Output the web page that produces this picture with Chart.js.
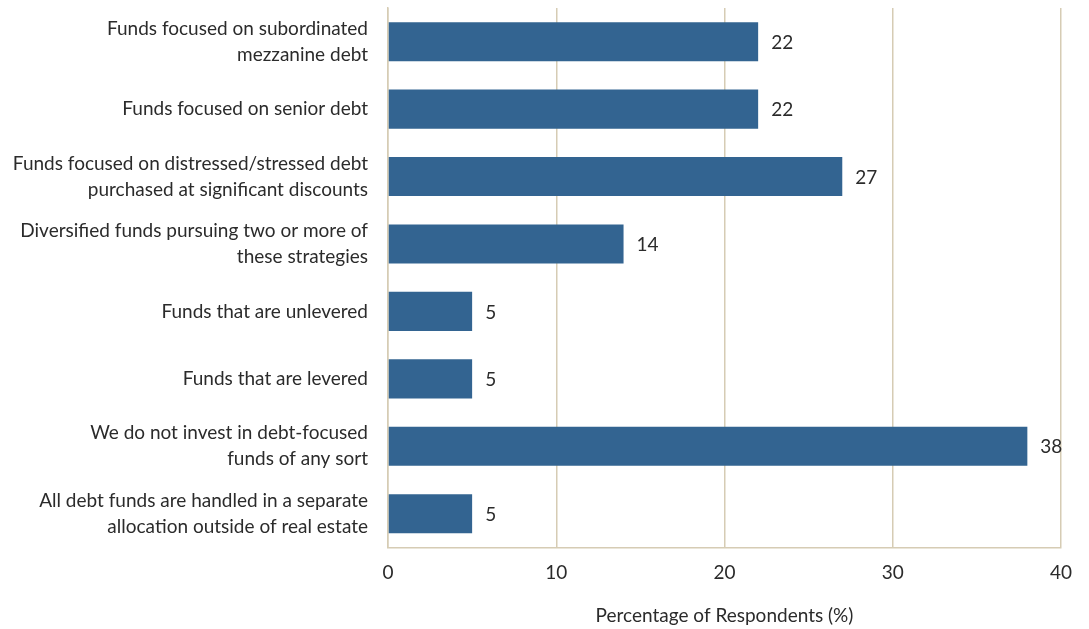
<!DOCTYPE html>
<html>
<head>
<meta charset="utf-8">
<script src="https://cdn.jsdelivr.net/npm/chart.js@4/dist/chart.umd.min.js"></script>
<style>
  html, body { margin: 0; padding: 0; background: #fff; }
  #wrap { width: 1089px; height: 629px; position: relative; }
</style>
</head>
<body>
<div id="wrap"><canvas id="chart"></canvas></div>
<script>
// categories (multi-line labels as arrays)
const categories = [
    ["Funds focused on subordinated", "mezzanine debt"],
    "Funds focused on senior debt",
    ["Funds focused on distressed/stressed debt", "purchased at significant discounts"],
    ["Diversified funds pursuing two or more of", "these strategies"],
    "Funds that are unlevered",
    "Funds that are levered",
    ["We do not invest in debt-focused", "funds of any sort"],
    ["All debt funds are handled in a separate", "allocation outside of real estate"]
];
const respondents = [22, 22, 27, 14, 5, 5, 38, 5];
const xTicks = [0, 10, 20, 30, 40];

const barColor = "#336491";
const gridColor = "#d6ccb4";
const textColor = "#2b2b2b";
const fontFamily = "Lato, 'Open Sans', sans-serif";

// draws the value to the right of each bar
const valueLabels = {
    id: "valueLabels",
    afterDatasetsDraw(chart) {
        const ctx = chart.ctx;
        const meta = chart.getDatasetMeta(0);
        ctx.save();
        ctx.font = "19px " + fontFamily;
        ctx.fillStyle = textColor;
        ctx.textAlign = "left";
        ctx.textBaseline = "middle";
        meta.data.forEach((bar, i) => {
            ctx.fillText(String(respondents[i]), bar.x + 13, bar.y + 1);
        });
        ctx.restore();
    }
};

new Chart(document.getElementById("chart").getContext("2d"), {
    type: "bar",
    data: {
        labels: categories,
        datasets: [{
            data: respondents,
            backgroundColor: barColor,
            borderWidth: 0,
            barPercentage: 0.58,
            categoryPercentage: 1
        }]
    },
    options: {
        indexAxis: "y",
        responsive: true,
        maintainAspectRatio: false,
        animation: false,
        layout: { padding: { top: 8, right: 28, bottom: 2, left: 8 } },
        plugins: {
            legend: { display: false },
            tooltip: { enabled: false }
        },
        scales: {
            x: {
                min: 0,
                max: 40,
                afterBuildTicks: (axis) => { axis.ticks = xTicks.map((v) => ({ value: v })); },
                grid: { color: gridColor, lineWidth: 1.5, drawTicks: false },
                border: { display: true, color: gridColor, width: 1.5 },
                ticks: {
                    color: textColor,
                    padding: 14,
                    font: { family: fontFamily, size: 19 }
                },
                title: {
                    display: true,
                    text: "Percentage of Respondents (%)",
                    color: textColor,
                    padding: { top: 6, bottom: 0 },
                    font: { family: fontFamily, size: 19 }
                }
            },
            y: {
                afterFit: (axis) => {
                    axis.width = 380;
                    axis.paddingTop = 0;
                    axis.paddingBottom = 0;
                },
                grid: { display: false, drawTicks: false },
                border: { display: true, color: gridColor, width: 1.5 },
                ticks: {
                    color: textColor,
                    padding: 20,
                    font: { family: fontFamily, size: 19, lineHeight: 1.37 }
                }
            }
        }
    },
    plugins: [valueLabels]
});
</script>
</body>
</html>
